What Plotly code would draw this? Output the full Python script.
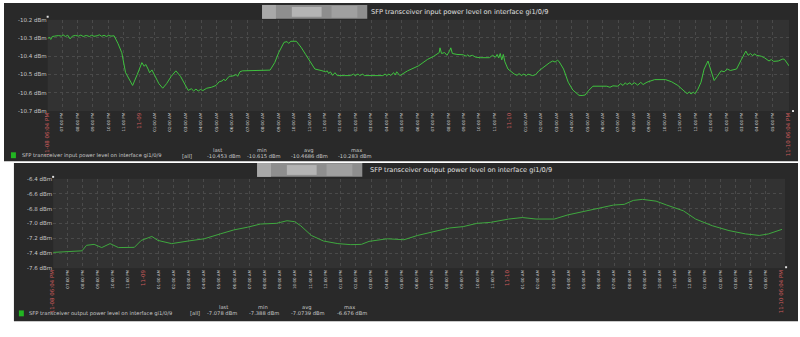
import plotly.graph_objects as go

W, H = 800, 337

# ---- data: hours since 11-08 06:04 PM and received/transmitted power (dBm) ----
RX_HOURS = [0.0, 0.1, 0.2, 0.3, 0.45, 0.7, 0.9, 1.0, 1.15, 1.3, 1.45, 1.6, 1.8, 2.0, 2.15, 2.3, 2.5, 2.7,
            2.85, 3.0, 3.2, 3.35, 3.5, 3.65, 3.8, 3.95, 4.1, 4.3, 4.55, 4.8, 5.04, 5.3, 5.5, 5.8, 6.1,
            6.25, 6.35, 6.5, 6.6, 6.75, 6.9, 7.2, 7.45, 7.7, 8.0, 8.3, 8.6, 8.85, 9.1, 9.3, 9.45, 9.6,
            9.75, 9.9, 10.05, 10.3, 10.6, 10.9, 11.1, 11.3, 11.4, 11.5, 11.75, 12.0, 12.2, 12.3, 12.45,
            12.6, 14.4, 14.7, 14.96, 15.3, 15.5, 15.6, 15.75, 16.1, 16.4, 16.7, 17.0, 17.3, 17.7, 18.0,
            18.1, 18.2, 18.3, 18.45, 18.6, 18.75, 19.2, 19.6, 19.8, 19.9, 20.1, 20.2, 20.4, 20.5, 21.7,
            21.85, 21.95, 22.1, 22.2, 22.4, 22.5, 22.6, 22.8, 23.3, 24.0, 24.6, 25.0, 25.2, 25.35, 25.4,
            25.5, 25.7, 25.85, 26.0, 26.1, 26.2, 26.5, 26.9, 27.1, 27.2, 27.3, 27.5, 27.7, 28.0, 28.6,
            28.8, 29.0, 29.1, 29.2, 29.3, 29.4, 29.5, 29.6, 29.8, 30.2, 30.4, 30.5, 30.7, 30.8, 31.0,
            31.1, 31.4, 31.6, 31.8, 32.2, 32.5, 32.7, 32.85, 33.0, 33.1, 33.4, 33.7, 34.0, 34.4, 34.6,
            34.8, 35.0, 35.3, 36.2, 36.4, 36.6, 36.9, 37.1, 37.25, 37.4, 37.5, 37.7, 37.8, 38.0, 38.2,
            38.4, 38.55, 38.8, 39.3, 40.0, 40.4, 40.8, 41.1, 41.4, 41.55, 41.65, 41.8, 41.9, 42.1, 42.3,
            42.5, 42.75, 42.95, 43.15, 43.35, 43.6, 43.8, 44.0, 44.2, 44.6, 44.9, 45.2, 45.35, 45.5,
            45.65, 45.75, 45.9, 46.2, 46.4, 46.7, 46.85, 47.0, 47.3, 47.6, 47.7, 48.0]
RX_DBM = [-10.305, -10.296, -10.308, -10.292, -10.290, -10.287, -10.290, -10.283, -10.292, -10.285,
          -10.305, -10.290, -10.286, -10.290, -10.284, -10.292, -10.286, -10.292, -10.285, -10.291,
          -10.288, -10.283, -10.291, -10.285, -10.292, -10.286, -10.290, -10.288, -10.330, -10.381,
          -10.489, -10.530, -10.560, -10.500, -10.435, -10.455, -10.445, -10.470, -10.490, -10.475,
          -10.500, -10.550, -10.575, -10.550, -10.510, -10.480, -10.510, -10.550, -10.587, -10.578,
          -10.590, -10.580, -10.590, -10.582, -10.588, -10.575, -10.570, -10.560, -10.540, -10.535,
          -10.525, -10.535, -10.510, -10.508, -10.500, -10.510, -10.485, -10.480, -10.476, -10.435,
          -10.380, -10.324, -10.320, -10.330, -10.318, -10.318, -10.350, -10.390, -10.430, -10.470,
          -10.478, -10.485, -10.480, -10.495, -10.485, -10.505, -10.490, -10.506, -10.506, -10.506,
          -10.498, -10.506, -10.497, -10.506, -10.498, -10.506, -10.506, -10.497, -10.506, -10.497,
          -10.506, -10.490, -10.503, -10.485, -10.506, -10.480, -10.453, -10.417, -10.400, -10.390,
          -10.380, -10.354, -10.385, -10.380, -10.395, -10.375, -10.354, -10.385, -10.390, -10.392,
          -10.400, -10.392, -10.400, -10.395, -10.405, -10.408, -10.408, -10.395, -10.405, -10.390,
          -10.410, -10.385, -10.420, -10.390, -10.430, -10.470, -10.497, -10.505, -10.495, -10.506,
          -10.497, -10.506, -10.498, -10.506, -10.500, -10.480, -10.453, -10.435, -10.426, -10.432,
          -10.422, -10.428, -10.470, -10.542, -10.585, -10.614, -10.615, -10.612, -10.590, -10.564,
          -10.564, -10.570, -10.562, -10.564, -10.550, -10.560, -10.545, -10.555, -10.545, -10.556,
          -10.545, -10.558, -10.543, -10.555, -10.542, -10.528, -10.528, -10.540, -10.560, -10.585,
          -10.605, -10.595, -10.607, -10.596, -10.605, -10.580, -10.542, -10.470, -10.426, -10.480,
          -10.533, -10.510, -10.480, -10.485, -10.470, -10.478, -10.470, -10.420, -10.372, -10.395,
          -10.385, -10.398, -10.387, -10.395, -10.400, -10.408, -10.426, -10.418, -10.428, -10.426,
          -10.415, -10.417, -10.453]

TX_HOURS = [0.0, 0.5, 1.0, 1.5, 1.9, 2.2, 2.7, 3.2, 3.75, 4.3, 5.35, 5.8, 6.5, 6.9, 7.8, 8.9, 9.95,
            11.0, 11.9, 12.8, 13.65, 14.7, 15.4, 15.9, 16.3, 17.0, 17.8, 18.75, 19.6, 20.3, 20.8, 22.0,
            23.1, 24.0, 25.3, 26.1, 27.0, 27.9, 28.8, 30.0, 30.9, 31.8, 33.0, 33.9, 34.9, 36.0, 36.9,
            37.6, 38.2, 38.8, 39.7, 40.4, 41.5, 42.3, 43.4, 44.5, 45.6, 46.5, 47.1, 48.0]
TX_DBM = [-7.388, -7.385, -7.378, -7.375, -7.367, -7.293, -7.280, -7.323, -7.270, -7.323, -7.320,
          -7.227, -7.174, -7.227, -7.270, -7.235, -7.205, -7.140, -7.086, -7.050, -7.007, -6.998,
          -6.963, -6.975, -7.030, -7.160, -7.235, -7.270, -7.284, -7.280, -7.240, -7.205, -7.218,
          -7.160, -7.095, -7.060, -7.042, -6.998, -6.985, -6.940, -6.920, -6.940, -6.940, -6.884,
          -6.840, -6.787, -6.752, -6.743, -6.690, -6.676, -6.700, -6.752, -6.830, -6.940, -7.030,
          -7.095, -7.140, -7.160, -7.140, -7.078]

# ---- time axis labels ----
TICK_LABELS = ["11-08 06:04 PM",
               "07:00 PM", "08:00 PM", "09:00 PM", "10:00 PM", "11:00 PM",
               "11-09",
               "01:00 AM", "02:00 AM", "03:00 AM", "04:00 AM", "05:00 AM", "06:00 AM",
               "07:00 AM", "08:00 AM", "09:00 AM", "10:00 AM", "11:00 AM",
               "12:00 PM",
               "01:00 PM", "02:00 PM", "03:00 PM", "04:00 PM", "05:00 PM", "06:00 PM",
               "07:00 PM", "08:00 PM", "09:00 PM", "10:00 PM", "11:00 PM",
               "11-10",
               "01:00 AM", "02:00 AM", "03:00 AM", "04:00 AM", "05:00 AM", "06:00 AM",
               "07:00 AM", "08:00 AM", "09:00 AM", "10:00 AM", "11:00 AM",
               "12:00 PM",
               "01:00 PM", "02:00 PM", "03:00 PM", "04:00 PM", "05:00 PM",
               "11-10 06:04 PM"]
DATE_LABELS = {"11-08 06:04 PM", "11-09", "11-10", "11-10 06:04 PM"}
FIRST_FULL_HOUR = 56 / 60  # 07:00 PM is 56 min after the start
TICK_HOURS = [0.0] + [FIRST_FULL_HOUR + k for k in range(len(TICK_LABELS) - 2)] + [48.0]

RX_YTICKS = [-10.7, -10.6, -10.5, -10.4, -10.3, -10.2]
TX_YTICKS = [-7.6, -7.4, -7.2, -7.0, -6.8, -6.6, -6.4]

RX_NAME = "SFP transceiver input power level on interface gi1/0/9"
TX_NAME = "SFP transceiver output power level on interface gi1/0/9"
RX_STATS = ["-10.453 dBm", "-10.615 dBm", "-10.4686 dBm", "-10.283 dBm"]
TX_STATS = ["-7.078 dBm", "-7.388 dBm", "-7.0739 dBm", "-6.676 dBm"]
STAT_HEADERS = ["last", "min", "avg", "max"]

# ---- styling ----
FONT = "DejaVu Sans"
PANEL = "#292929"
PLOT_BG = "#323232"
GRID = "#4a4a4a"
TEXT = "#c8c8c8"
RED = "#c85a5a"


def px(x):
    return x / W


def py(y):
    return 1 - y / H


def tick_text(labels):
    out = []
    for lab in labels:
        if lab in DATE_LABELS:
            out.append(f'<span style="color:{RED};font-size:5.5px">{lab}</span>')
        else:
            out.append(lab)
    return out


fig = go.Figure()
fig.add_trace(go.Scatter(x=RX_HOURS, y=RX_DBM, mode="lines",
                         line=dict(color="#3fc23f", width=1), xaxis="x", yaxis="y",
                         showlegend=False, hoverinfo="skip"))
fig.add_trace(go.Scatter(x=TX_HOURS, y=TX_DBM, mode="lines",
                         line=dict(color="#3fa83f", width=1), xaxis="x2", yaxis="y2",
                         showlegend=False, hoverinfo="skip"))

# graph panels (pixel boxes: x0, y0, x1, y1)
RX_PLOT = (44, 17, 791, 110)
TX_PLOT = (49.5, 179, 784, 270)

xcommon = dict(range=[0, 48], tickmode="array", tickvals=TICK_HOURS,
               ticktext=tick_text(TICK_LABELS), tickangle=-90,
               tickfont=dict(family=FONT, size=4, color="#d8d8d8"),
               showgrid=True, gridcolor=GRID, griddash="dot", gridwidth=1,
               zeroline=False, showline=False, ticks="", fixedrange=True)
ycommon = dict(tickfont=dict(family=FONT, size=5.5, color=TEXT), showgrid=True,
               gridcolor=GRID, griddash="dot", gridwidth=1, zeroline=False,
               showline=False, ticks="", fixedrange=True)

fig.update_layout(
    width=W, height=H, margin=dict(l=0, r=0, t=0, b=0),
    paper_bgcolor="white", plot_bgcolor="rgba(0,0,0,0)",
    xaxis=dict(domain=[px(RX_PLOT[0]), px(RX_PLOT[2])], anchor="y", **xcommon),
    yaxis=dict(domain=[py(RX_PLOT[3]), py(RX_PLOT[1])], anchor="x", range=[-10.7, -10.2],
               tickvals=RX_YTICKS, ticktext=[f"{v:.1f} dBm" for v in RX_YTICKS], **ycommon),
    xaxis2=dict(domain=[px(TX_PLOT[0]), px(TX_PLOT[2])], anchor="y2", **xcommon),
    yaxis2=dict(domain=[py(TX_PLOT[3]), py(TX_PLOT[1])], anchor="x2", range=[-7.6, -6.4],
                tickvals=TX_YTICKS, ticktext=[f"{v:.1f} dBm" for v in TX_YTICKS], **ycommon),
)

shapes = []


def rect(x0, y0, x1, y1, color):
    shapes.append(dict(type="rect", xref="paper", yref="paper", x0=px(x0), x1=px(x1),
                       y0=py(y1), y1=py(y0), fillcolor=color, line=dict(width=0),
                       layer="below"))


rect(0, 0, 800, 161, PANEL)
rect(10, 163, 800, 324, PANEL)
rect(*RX_PLOT, PLOT_BG)
rect(TX_PLOT[0], TX_PLOT[1], 787, TX_PLOT[3], PLOT_BG)

# obscured host names in the titles
for (bx0, by0) in [(260, 2), (255, 163)]:
    rect(bx0, by0, bx0 + 106, by0 + 14, "#8e8e8e")
    rect(bx0, by0, bx0 + 14, by0 + 14, "#a8a8a8")
    rect(bx0 + 30, by0 + 2, bx0 + 60, by0 + 12, "#b4b4b4")
    rect(bx0 + 70, by0 + 1, bx0 + 96, by0 + 13, "#a0a0a0")

# legend colour keys
rect(7, 152, 12, 158, "#22b522")
rect(15, 313, 20, 319, "#22b522")

# axis end markers
rect(43, 13, 45, 15, "#e0e0e0")
rect(794, 109, 796, 111, "#e0e0e0")
rect(48.5, 176, 50.5, 178, "#e0e0e0")
rect(787, 268, 789, 270, "#e0e0e0")

fig.update_layout(shapes=shapes)

annotations = []


def text(x, y, s, size, color=TEXT, anchor="left"):
    annotations.append(dict(xref="paper", yref="paper", x=px(x), y=py(y), text=s,
                            showarrow=False, xanchor=anchor, yanchor="middle",
                            font=dict(family=FONT, size=size, color=color)))


text(368, 9, RX_NAME, 6.6, "#e0e0e0")
text(367, 170, TX_NAME, 6.6, "#e0e0e0")

# legend rows with last/min/avg/max statistics
text(16, 155.5, RX_NAME, 5.2)
text(177, 155.5, "[all]", 5.2)
for xs, s in zip([203, 243, 287, 335], RX_STATS):
    text(xs, 155.5, s, 5.2)
for xc, s in zip([215, 260, 307, 355], STAT_HEADERS):
    text(xc, 150, s, 5.2, anchor="center")

text(23, 316, TX_NAME, 5.2)
text(185, 316, "[all]", 5.2)
for xs, s in zip([203, 245, 287, 333], TX_STATS):
    text(xs, 316, s, 5.2)
for xc, s in zip([221, 261, 305, 348], STAT_HEADERS):
    text(xc, 310, s, 5.2, anchor="center")

fig.update_layout(annotations=annotations)

fig.write_html("out.html")
